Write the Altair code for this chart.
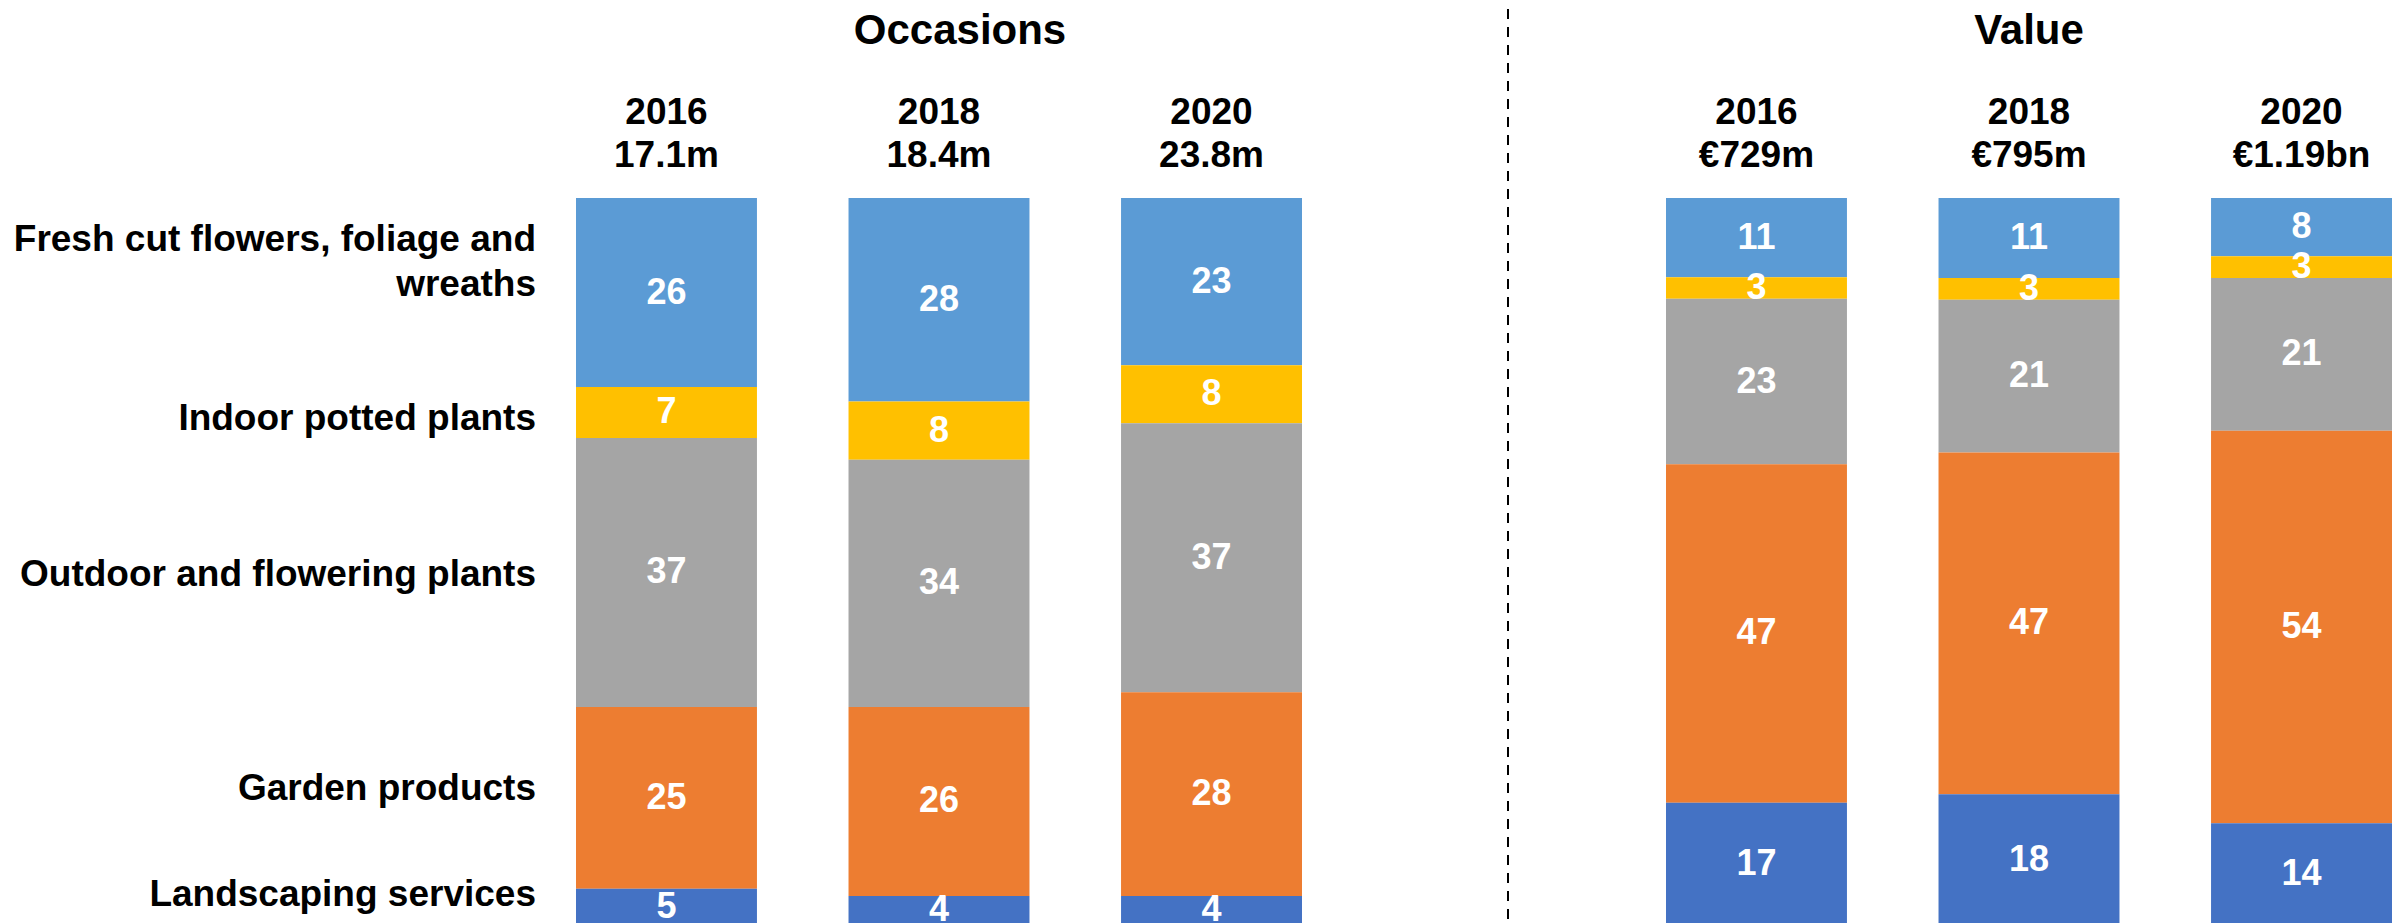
import altair as alt
import pandas as pd

categories = [
    "Fresh cut flowers, foliage and\nwreaths",
    "Indoor potted plants",
    "Outdoor and flowering plants",
    "Garden products",
    "Landscaping services",
]
colors = ["#5B9BD5", "#FFC000", "#A5A5A5", "#ED7D31", "#4472C4"]
years = ["2016", "2018", "2020"]

occasion_totals = ["17.1m", "18.4m", "23.8m"]
occasions_2016 = [26, 7, 37, 25, 5]
occasions_2018 = [28, 8, 34, 26, 4]
occasions_2020 = [23, 8, 37, 28, 4]

value_totals = ["€729m", "€795m", "€1.19bn"]
value_2016 = [11, 3, 23, 47, 17]
value_2018 = [11, 3, 21, 47, 18]
value_2020 = [8, 3, 21, 54, 14]

FONT = "Liberation Sans"
# vertical nudges (px) of the row labels relative to the 2016 segment centres
LABEL_DY = [-53, 7, 3, -9, -12]


def make_df(series, totals):
    rows = []
    for yi, yr in enumerate(years):
        for ci, cat in enumerate(categories):
            rows.append({
                "year": yr,
                "header": f"{yr}\n{totals[yi]}",
                "category": cat,
                "idx": ci,
                "share": series[yi][ci],
            })
    return pd.DataFrame(rows)


def panel(df, title, title_dx, with_labels):
    base = alt.Chart(df).transform_stack(
        as_=["y0", "y1"],
        stack="share",
        groupby=["header"],
        sort=[alt.SortField(field="idx", order="descending")],
        offset="normalize",
    ).transform_calculate(mid="(datum.y0 + datum.y1) / 2")

    x = alt.X(
        "header:N",
        title=None,
        scale=alt.Scale(paddingInner=0.336, paddingOuter=0),
        axis=alt.Axis(
            orient="top",
            labelExpr="split(datum.label, '\\n')",
            labelAngle=0,
            labelFont=FONT,
            labelFontSize=37,
            labelFontWeight="bold",
            labelColor="black",
            labelLineHeight=43,
            labelPadding=67,
            domain=False,
            ticks=False,
            tickSize=0,
            grid=False,
        ),
    )
    yscale = alt.Scale(domain=[0, 1], nice=False, zero=False)

    bars = base.mark_bar().encode(
        x=x,
        y=alt.Y("y0:Q", scale=yscale, axis=None),
        y2="y1:Q",
        color=alt.Color("category:N", scale=alt.Scale(domain=categories, range=colors), legend=None),
    )
    nums = base.mark_text(
        color="white", font=FONT, fontSize=36, fontWeight="bold", baseline="middle"
    ).encode(x=x, y=alt.Y("mid:Q", scale=yscale, axis=None), text=alt.Text("share:Q"))

    layers = [bars, nums]
    if with_labels:
        for i, dy in enumerate(LABEL_DY):
            lab = base.transform_filter(
                f"datum.year == '2016' && datum.idx == {i}"
            ).mark_text(
                align="right", baseline="middle", font=FONT, fontSize=37, fontWeight="bold",
                color="black", lineBreak="\n", lineHeight=45, dy=dy,
            ).encode(x=alt.value(-40), y=alt.Y("mid:Q", scale=yscale, axis=None), text="category:N")
            layers.append(lab)

    return alt.layer(*layers).properties(
        width=726,
        height=727,
        title=alt.TitleParams(
            title, font=FONT, fontSize=42, fontWeight="bold", color="black",
            anchor="middle", dx=title_dx, offset=40,
        ),
    )


occ_df = make_df([occasions_2016, occasions_2018, occasions_2020], occasion_totals)
val_df = make_df([value_2016, value_2018, value_2020], value_totals)

p1 = panel(occ_df, "Occasions", 21, True)
p2 = panel(val_df, "Value", 0, False)

divider = alt.Chart(pd.DataFrame({"k": [0]})).mark_rule(
    color="black", strokeWidth=2, strokeDash=[10, 8]
).encode(x=alt.value(106), y=alt.value(-189), y2=alt.value(730)).properties(width=164, height=727)

chart = alt.hconcat(p1, divider, p2, spacing=100, bounds="flush").configure_view(
    stroke=None
).properties(
    padding={"left": 5, "top": 0, "right": 0, "bottom": 0}
)

chart.save("out.html", embed_options={"renderer": "svg", "actions": False})
